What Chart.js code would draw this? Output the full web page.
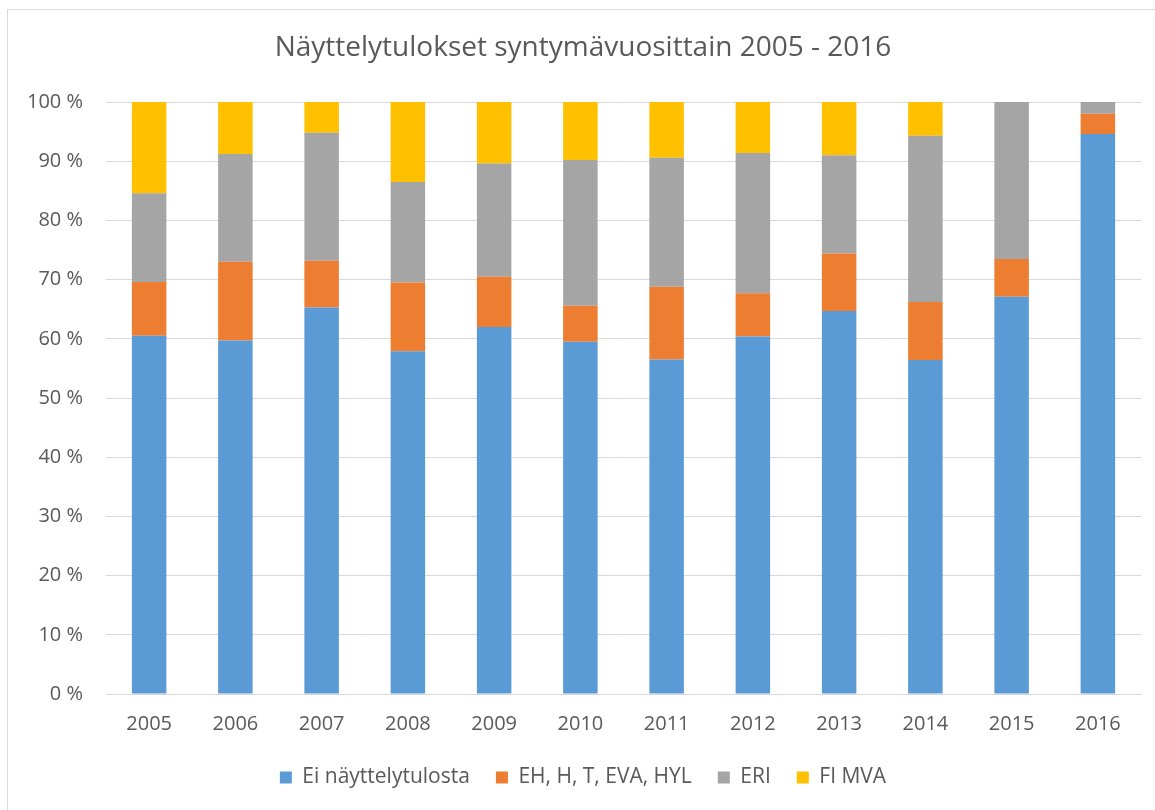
<!DOCTYPE html>
<html><head><meta charset="utf-8">
<script src="https://cdn.jsdelivr.net/npm/chart.js@4"></script>
<style>
html,body{margin:0;padding:0;background:#fff;overflow:hidden}
#frame{position:absolute;left:7px;top:9px;width:1160px;height:820px;border:1px solid #d9d9d9;box-sizing:border-box}
#wrap{position:absolute;left:0;top:0;width:1155px;height:810px}
</style></head><body>
<div id="frame"></div>
<div id="wrap"><canvas id="c"></canvas></div>
<script>
const categories = ['2005','2006','2007','2008','2009','2010','2011','2012','2013','2014','2015','2016'];
const eiNayttelytulosta = [60.5, 59.7, 65.3, 57.9, 62.0, 59.5, 56.5, 60.4, 64.7, 56.4, 67.1, 94.6];
const ehHTEvaHyl       = [9.1, 13.3, 7.9, 11.6, 8.5, 6.1, 12.3, 7.3, 9.7, 9.8, 6.4, 3.4];
const eri              = [15.0, 18.2, 21.6, 17.0, 19.1, 24.6, 21.8, 23.7, 16.6, 28.1, 26.5, 2.0];
const fiMva            = [15.4, 8.8, 5.2, 13.5, 10.4, 9.8, 9.4, 8.6, 9.0, 5.7, 0, 0];
const yTicks = [0,10,20,30,40,50,60,70,80,90,100];
const title = 'Näyttelytulokset syntymävuosittain 2005 - 2016';

const txt = '#595959';
const font = 'Open Sans';
Chart.defaults.font.family = font;
Chart.defaults.color = txt;

const ds = (label, data, color) => ({label, data, backgroundColor: color, borderWidth: 0,
  barPercentage: 0.4, categoryPercentage: 1.0});

new Chart(document.getElementById('c'), {
  type: 'bar',
  data: {
    labels: categories,
    datasets: [
      ds('Ei näyttelytulosta', eiNayttelytulosta, '#5B9BD5'),
      ds('EH, H, T, EVA, HYL', ehHTEvaHyl, '#ED7D31'),
      ds('ERI', eri, '#A5A5A5'),
      ds('FI MVA', fiMva, '#FFC000')
    ]
  },
  options: {
    responsive: true,
    maintainAspectRatio: false,
    animation: false,
    layout: {padding: {left: 25, right: 14, top: 0, bottom: 12}},
    plugins: {
      title: {display: true, text: title, color: txt,
        font: {size: 28, weight: 'normal', family: font},
        padding: {top: 31, bottom: 37.4}},
      legend: {position: 'bottom',
        labels: {boxWidth: 12, boxHeight: 12, padding: 26, color: txt,
          font: {size: 21, family: font}}},
      tooltip: {enabled: false}
    },
    scales: {
      x: {stacked: true,
        grid: {display: false},
        border: {display: true, color: '#d9d9d9', width: 1},
        ticks: {color: txt, font: {size: 20}, padding: 10},
        afterFit: s => { s.height = 47; }
      },
      y: {stacked: true, min: 0, max: 100,
        afterBuildTicks: s => { s.ticks = yTicks.map(v => ({value: v})); },
        ticks: {color: txt, font: {size: 20}, padding: 23,
          callback: v => v + ' %'},
        grid: {color: '#d9d9d9', lineWidth: 1, drawTicks: false},
        border: {display: false},
        afterFit: s => { s.width = 81; }
      }
    }
  }
});
</script>
</body></html>
